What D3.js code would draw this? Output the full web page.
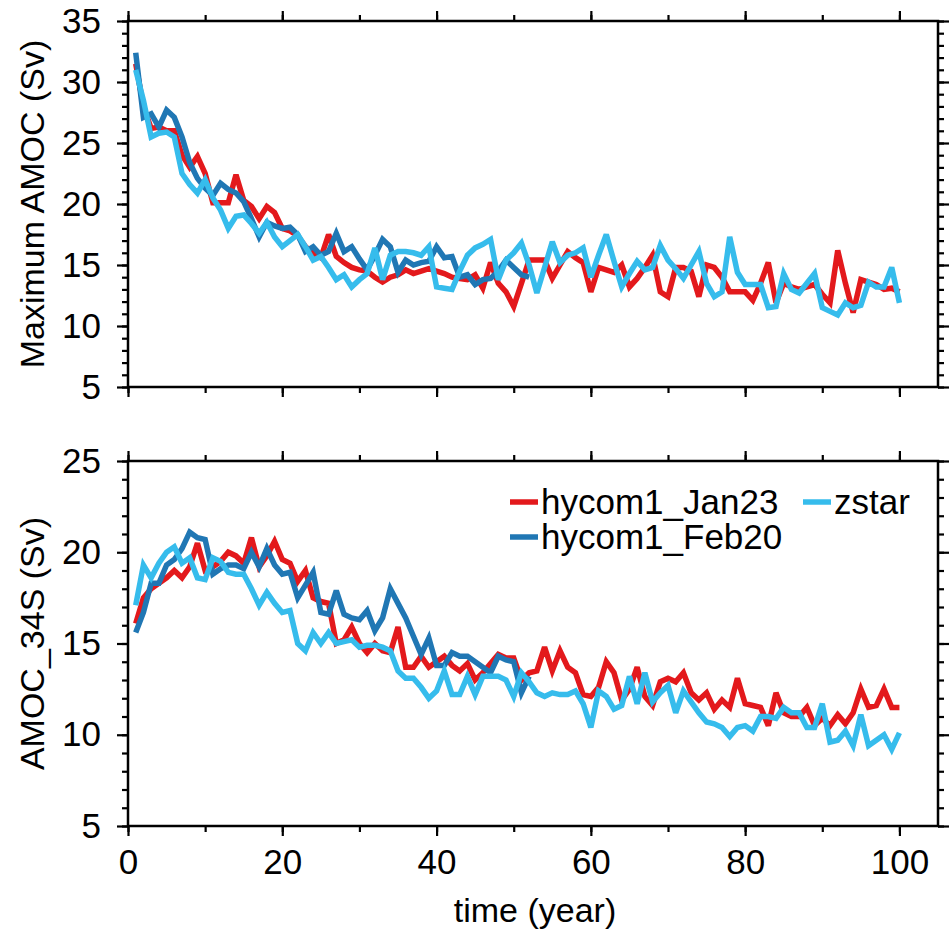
<!DOCTYPE html>
<html>
<head>
<meta charset="utf-8">
<script src="https://cdn.jsdelivr.net/npm/d3@7"></script>
<style>
  body { margin: 0; background: #fff; }
  text { font-family: "Liberation Sans", Arial, Helvetica, sans-serif; fill: #000; }
</style>
</head>
<body>
<div id="chart"></div>
<script>
// Data (year 1..100, hycom1_Feb20 stops at year 52)
const jan23Max = [31.5,28.0,26.2,26.3,26.0,26.0,24.0,23.0,23.9,22.5,
  20.1,20.1,20.1,22.4,20.3,19.8,18.8,19.8,19.3,18.0,
  17.8,17.4,16.5,16.0,15.6,17.5,15.7,15.2,14.8,14.6,
  14.5,14.0,13.6,14.0,14.2,14.6,14.3,14.5,14.7,14.5,
  14.3,14.0,13.9,13.8,14.2,13.1,15.2,13.5,12.8,11.6,
  13.5,15.4,15.4,15.4,13.9,15.0,16.1,15.6,15.2,12.8,
  14.8,14.6,14.4,15.0,13.2,13.9,14.8,15.8,12.8,12.4,
  14.8,14.8,14.5,12.4,15.0,14.8,14.0,12.8,12.8,12.8,
  12.1,13.5,15.2,11.9,13.5,13.2,13.0,13.2,13.4,12.6,
  11.9,16.2,13.5,11.1,13.8,13.6,13.4,13.0,13.1,12.8]
const feb20Max = [32.4,27.1,27.4,26.3,27.7,27.1,25.5,23.4,22.1,21.3,
  20.7,21.7,21.2,20.9,20.2,18.8,17.3,18.5,18.2,18.0,
  18.1,17.5,16.1,16.5,15.8,16.1,17.6,16.1,16.5,15.5,
  14.6,15.8,17.1,16.5,14.4,15.4,15.0,15.2,15.3,16.5,
  15.6,15.7,14.0,14.2,13.4,13.8,13.9,14.5,15.4,14.8,
  14.2,14.0]
const zstarMax = [31.0,28.5,25.5,25.8,25.9,25.5,22.5,21.6,20.9,22.0,
  20.5,19.5,18.0,19.0,19.1,18.4,17.6,18.5,17.3,16.5,
  17.0,17.5,16.5,15.4,15.7,14.8,13.8,14.2,13.2,13.8,
  14.3,16.4,13.8,15.8,16.1,16.1,16.0,15.8,16.5,13.2,
  13.1,13.0,14.5,15.8,16.4,16.7,17.1,13.8,15.4,16.0,
  16.8,15.0,12.7,14.8,16.9,15.2,15.8,16.0,16.4,14.0,
  15.8,17.5,15.3,13.2,14.3,15.3,14.6,14.8,16.6,15.4,
  14.7,13.9,15.0,16.1,13.5,12.4,12.8,17.3,14.4,13.4,
  13.4,13.4,11.5,11.6,14.3,13.0,12.7,13.5,14.3,11.5,
  11.2,10.9,11.9,11.5,11.7,13.6,13.2,13.2,14.8,11.9]

const jan23S = [16.1,17.5,18.0,18.3,18.6,19.0,18.6,19.2,20.5,19.0,
  19.2,19.5,20.0,19.8,19.4,20.8,19.2,19.8,20.6,19.6,
  19.4,18.4,19.0,17.5,17.3,17.2,15.0,15.2,15.9,15.0,
  14.5,15.0,14.6,14.5,15.9,13.7,13.7,14.3,13.7,14.0,
  14.3,13.8,13.5,13.9,13.0,13.4,13.9,14.4,14.2,14.2,
  13.0,13.4,13.5,14.8,13.5,14.6,13.7,13.4,12.2,12.1,
  12.6,14.0,13.4,11.9,12.5,13.7,12.1,11.6,12.9,13.1,
  12.9,13.4,12.3,11.9,12.3,11.4,11.9,11.5,13.1,11.7,
  11.6,11.5,10.5,12.3,11.2,11.0,11.0,11.5,10.5,10.9,
  10.5,11.1,10.6,11.2,12.5,11.5,11.6,12.5,11.5,11.5]
const feb20S = [15.6,16.7,18.3,18.3,19.3,19.6,20.2,21.1,20.8,20.7,
  18.8,19.1,19.3,19.3,19.1,20.0,19.2,20.2,19.3,18.8,
  18.9,17.5,18.2,18.9,16.7,16.6,17.9,16.6,16.4,16.3,
  16.8,15.7,16.4,18.0,17.2,16.4,15.4,14.4,15.3,13.8,
  13.8,14.5,14.3,14.3,14.0,13.7,13.4,14.3,14.1,14.0,
  12.3,13.2]
const zstarS = [17.1,19.3,18.6,19.4,20.0,20.3,19.4,19.7,18.6,18.5,
  19.7,19.5,18.9,18.8,18.8,18.0,17.1,17.8,17.2,16.7,
  16.8,15.0,14.6,15.6,15.0,15.6,15.0,15.1,15.2,14.8,
  14.9,14.9,14.8,14.6,13.5,13.1,13.1,12.6,12.0,12.4,
  13.5,12.2,12.2,13.2,12.2,13.2,13.2,13.2,13.0,12.1,
  13.4,12.9,12.3,12.1,12.3,12.2,12.2,12.4,11.7,10.4,
  12.4,12.1,11.4,11.6,13.2,11.7,13.4,11.8,12.3,12.7,
  11.2,12.4,11.8,11.2,10.7,10.6,10.4,9.9,10.4,10.5,
  10.2,11.0,11.0,10.9,11.5,11.2,11.2,10.4,10.4,11.7,
  9.6,9.7,10.2,9.4,11.1,9.4,9.7,10.0,9.2,10.1]

const seriesNames = ['hycom1_Jan23', 'hycom1_Feb20', 'zstar']
const seriesColors = ['#e3191c', '#2077b4', '#36bcec']
const xTicks = [0, 20, 40, 60, 80, 100]

// Dimensions
const dimensions = {
  width: 950,
  height: 936,
  left: 128,
  right: 938,
}

const panels = [
  { top: 21, bottom: 387, domain: [5, 35], label: 'Maximum AMOC (Sv)',
    series: [jan23Max, feb20Max, zstarMax], xLabels: false, legend: false },
  { top: 461, bottom: 826, domain: [5, 25], label: 'AMOC_34S (Sv)',
    series: [jan23S, feb20S, zstarS], xLabels: true, legend: true },
]

const svg = d3.select('#chart')
  .append('svg')
  .attr('width', dimensions.width)
  .attr('height', dimensions.height)

const x = d3.scaleLinear()
  .domain([0, 105])
  .range([dimensions.left, dimensions.right])

const line = (yScale) => d3.line()
  .x((d, i) => x(i + 1))
  .y(d => yScale(d))

panels.forEach(p => {
  const y = d3.scaleLinear().domain(p.domain).range([p.bottom, p.top])
  const g = svg.append('g')

  const majorY = d3.range(p.domain[0], p.domain[1] + 1, 5)
  const minorY = d3.range(p.domain[0], p.domain[1] + 1, 1)
  const minorX = d3.range(0, 101, 10)

  // minor ticks
  g.append('g').attr('transform', `translate(${dimensions.left},0)`)
    .call(d3.axisLeft(y).tickValues(minorY).tickSize(6).tickFormat(''))
  g.append('g').attr('transform', `translate(${dimensions.right},0)`)
    .call(d3.axisRight(y).tickValues(minorY).tickSize(6).tickFormat(''))
  g.append('g').attr('transform', `translate(0,${p.top})`)
    .call(d3.axisTop(x).tickValues(minorX).tickSize(6).tickFormat(''))
  g.append('g').attr('transform', `translate(0,${p.bottom})`)
    .call(d3.axisBottom(x).tickValues(minorX).tickSize(6).tickFormat(''))

  // major ticks
  g.append('g').attr('transform', `translate(${dimensions.left},0)`)
    .call(d3.axisLeft(y).tickValues(majorY).tickSize(11).tickPadding(16))
    .call(a => a.selectAll('text').style('font-size', '35px'))
  g.append('g').attr('transform', `translate(${dimensions.right},0)`)
    .call(d3.axisRight(y).tickValues(majorY).tickSize(11).tickFormat(''))
  g.append('g').attr('transform', `translate(0,${p.top})`)
    .call(d3.axisTop(x).tickValues(xTicks).tickSize(10).tickFormat(''))
  g.append('g').attr('transform', `translate(0,${p.bottom})`)
    .call(d3.axisBottom(x).tickValues(xTicks).tickSize(10).tickPadding(13)
      .tickFormat(p.xLabels ? d3.format('d') : ''))
    .call(a => a.selectAll('text').style('font-size', '35px'))

  g.selectAll('.domain').remove()
  g.selectAll('.tick line').attr('stroke', '#000').attr('stroke-width', 2.2)
  g.selectAll('.tick text').attr('fill', '#000')
    .style('font-family', '"Liberation Sans", Arial, sans-serif')

  // lines
  g.append('g').selectAll('path')
    .data(p.series)
    .join('path')
    .attr('d', d => line(y)(d))
    .attr('fill', 'none')
    .attr('stroke', (d, i) => seriesColors[i])
    .attr('stroke-width', 5.5)
    .attr('stroke-linejoin', 'miter')
    .attr('stroke-miterlimit', 3)

  // frame
  g.append('rect')
    .attr('x', dimensions.left)
    .attr('y', p.top)
    .attr('width', dimensions.right - dimensions.left)
    .attr('height', p.bottom - p.top)
    .attr('fill', 'none')
    .attr('stroke', '#000')
    .attr('stroke-width', 2.5)

  // y label
  g.append('text')
    .attr('transform', `translate(44,${(p.top + p.bottom) / 2}) rotate(-90)`)
    .attr('text-anchor', 'middle')
    .style('font-size', '34px')
    .text(p.label)

  if (p.legend) {
    const legendItems = [
      { name: seriesNames[0], color: seriesColors[0], lx: 510, ly: 502 },
      { name: seriesNames[1], color: seriesColors[1], lx: 510, ly: 537 },
      { name: seriesNames[2], color: seriesColors[2], lx: 803, ly: 502 },
    ]
    const lg = g.append('g')
    lg.selectAll('line')
      .data(legendItems)
      .join('line')
      .attr('x1', d => d.lx).attr('x2', d => d.lx + 28)
      .attr('y1', d => d.ly).attr('y2', d => d.ly)
      .attr('stroke', d => d.color)
      .attr('stroke-width', 5.5)
    lg.selectAll('text')
      .data(legendItems)
      .join('text')
      .attr('x', d => d.lx + 31)
      .attr('y', d => d.ly + 12)
      .style('font-size', '35px')
      .text(d => d.name)
  }
})

// x label
svg.append('text')
  .attr('x', 535)
  .attr('y', 922)
  .attr('text-anchor', 'middle')
  .style('font-size', '34px')
  .text('time (year)')
</script>
</body>
</html>
